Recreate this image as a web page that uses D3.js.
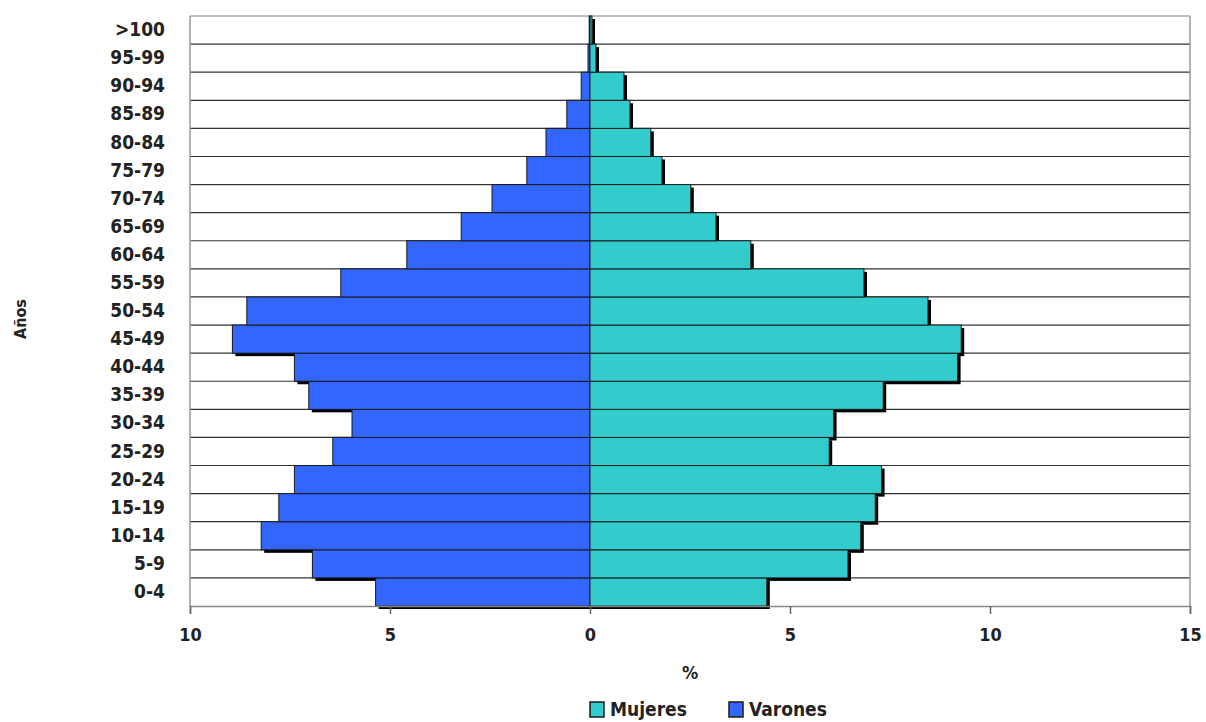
<!DOCTYPE html>
<html>
<head>
<meta charset="utf-8">
<script src="https://cdn.jsdelivr.net/npm/d3@7"></script>
<style>
  body { margin: 0; background: #fff; }
  text { font-family: "DejaVu Sans Condensed", "DejaVu Sans", sans-serif; font-stretch: condensed; font-weight: bold; fill: #222; }
</style>
</head>
<body>
<div id="chart"></div>
<script>
// age groups, bottom to top
const ageGroups = ["0-4", "5-9", "10-14", "15-19", "20-24", "25-29", "30-34", "35-39", "40-44", "45-49",
  "50-54", "55-59", "60-64", "65-69", "70-74", "75-79", "80-84", "85-89", "90-94", "95-99", ">100"];
const mujeres = [4.42, 6.45, 6.77, 7.13, 7.29, 5.98, 6.09, 7.33, 9.19, 9.28,
  8.45, 6.85, 4.02, 3.15, 2.52, 1.8, 1.52, 1.0, 0.85, 0.15, 0.05];
const varones = [5.36, 6.94, 8.22, 7.78, 7.39, 6.43, 5.95, 7.03, 7.39, 8.94,
  8.58, 6.23, 4.58, 3.22, 2.45, 1.58, 1.1, 0.58, 0.22, 0.05, 0.02];
const xTicks = [-10, -5, 0, 5, 10, 15];

const data = ageGroups.map((g, i) => ({ group: g, muj: mujeres[i], var: varones[i] }));

const W = 1206, H = 722;
const margin = { top: 16, right: 16, bottom: 116, left: 190 };
const width = 1190 - margin.left;
const height = 606 - margin.top;
const FONT = '"DejaVu Sans Condensed", "DejaVu Sans", sans-serif';

const svg = d3.select("#chart").append("svg")
  .attr("width", W).attr("height", H);

const g = svg.append("g")
  .attr("transform", `translate(${margin.left},${margin.top})`);

const x = d3.scaleLinear().domain([-10, 15]).range([0, width]);
const y = d3.scaleBand().domain(ageGroups.slice().reverse()).range([0, height]).padding(0);

// row separators
g.selectAll(".row").data(ageGroups.slice(0, ageGroups.length - 1))
  .enter().append("line")
  .attr("x1", 0).attr("x2", width)
  .attr("y1", d => y(d)).attr("y2", d => y(d))
  .attr("stroke", "#333").attr("stroke-width", 1.2);

// frame
g.append("line").attr("x1", 0).attr("x2", width).attr("y1", 0).attr("y2", 0)
  .attr("stroke", "#aaa").attr("stroke-width", 1.5);
g.append("line").attr("x1", width).attr("x2", width).attr("y1", 0).attr("y2", height)
  .attr("stroke", "#999").attr("stroke-width", 1.5);
g.append("line").attr("x1", 0).attr("x2", 0).attr("y1", 0).attr("y2", height)
  .attr("stroke", "#999").attr("stroke-width", 1.5);

const off = 3;
// shadows first
g.selectAll(".shV").data(data).enter().append("rect")
  .attr("x", d => x(-d.var) + off).attr("y", d => y(d.group) + off)
  .attr("width", d => x(0) - x(-d.var)).attr("height", y.bandwidth())
  .attr("fill", "#000");
g.selectAll(".shM").data(data).enter().append("rect")
  .attr("x", d => x(0) + off).attr("y", d => y(d.group) + off)
  .attr("width", d => x(d.muj) - x(0)).attr("height", y.bandwidth())
  .attr("fill", "#000");

// bars
g.selectAll(".barV").data(data).enter().append("rect")
  .attr("x", d => x(-d.var)).attr("y", d => y(d.group))
  .attr("width", d => x(0) - x(-d.var)).attr("height", y.bandwidth())
  .attr("fill", "#3366FF").attr("stroke", "#1a1a1a").attr("stroke-width", 1);
g.selectAll(".barM").data(data).enter().append("rect")
  .attr("x", x(0)).attr("y", d => y(d.group))
  .attr("width", d => x(d.muj) - x(0)).attr("height", y.bandwidth())
  .attr("fill", "#33CCCC").attr("stroke", "#1a1a1a").attr("stroke-width", 1);

// x axis
const xAxis = g.append("g")
  .attr("transform", `translate(0,${height})`)
  .call(d3.axisBottom(x).tickValues(xTicks).tickFormat(d => Math.abs(d)).tickSize(8).tickPadding(14));
xAxis.select(".domain").attr("stroke", "#888").attr("stroke-width", 1.5);
xAxis.selectAll(".tick line").attr("stroke", "#666").attr("stroke-width", 1.5);
xAxis.selectAll("text").attr("font-size", 18).attr("fill", "#222")
  .style("font-family", FONT).style("font-weight", "bold");

// y axis labels
const yAxis = g.append("g")
  .call(d3.axisLeft(y).tickSize(0).tickPadding(25));
yAxis.select(".domain").remove();
yAxis.selectAll("text").attr("font-size", 19).attr("fill", "#222")
  .style("font-family", FONT).style("font-weight", "bold");

// axis titles
svg.append("text").attr("x", margin.left + width / 2).attr("y", 679)
  .attr("text-anchor", "middle").attr("font-size", 18).text("%");
svg.append("text")
  .attr("transform", `translate(26,${margin.top + height / 2 + 8}) rotate(-90)`)
  .attr("text-anchor", "middle").attr("font-size", 16).text("Años");

// legend
const legendItems = [
  { label: "Mujeres", color: "#33CCCC", x: 590 },
  { label: "Varones", color: "#3366FF", x: 729 }
];
const leg = svg.selectAll(".leg").data(legendItems).enter().append("g")
  .attr("transform", d => `translate(${d.x},702)`);
leg.append("rect").attr("width", 14).attr("height", 15)
  .attr("fill", d => d.color).attr("stroke", "#1a1a1a").attr("stroke-width", 1.5);
leg.append("text").attr("x", 20).attr("y", 14).attr("font-size", 19)
  .text(d => d.label);
</script>
</body>
</html>
